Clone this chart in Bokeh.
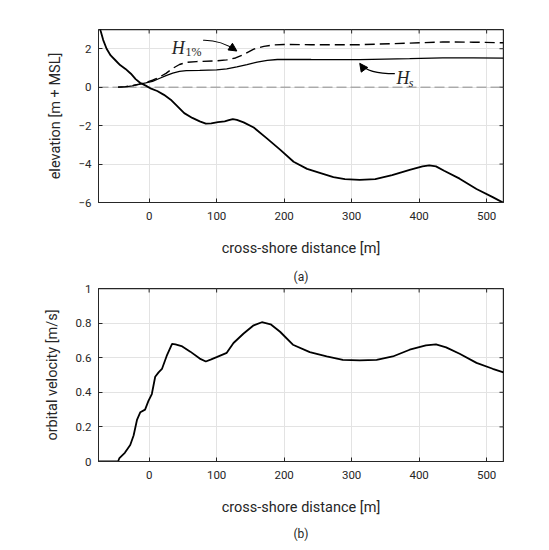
import math
from bokeh.plotting import figure
from bokeh.models import (Range1d, FixedTicker, Title, Arrow, NormalHead)
from bokeh.layouts import column
from bokeh.embed import file_html
from bokeh.resources import INLINE
from bokeh.core.properties import value

# ---------------- data ----------------
bed_x = [-75, -72, -68, -63, -57, -50, -43, -35, -27, -20, -13, -5, 3, 12, 22, 32, 42, 52,
         64, 75, 84, 92, 102, 112, 118, 124, 130, 140, 155, 174, 194, 214, 234, 254, 273,
         290, 312, 335, 360, 386, 405, 415, 425, 437, 460, 485, 509, 525]
bed_y = [3.5, 2.95, 2.45, 2.0, 1.65, 1.4, 1.15, 0.95, 0.7, 0.42, 0.22, 0.08, -0.08, -0.2,
         -0.4, -0.65, -1.0, -1.35, -1.6, -1.78, -1.9, -1.88, -1.82, -1.78, -1.72, -1.66,
         -1.7, -1.83, -2.1, -2.65, -3.25, -3.88, -4.25, -4.47, -4.68, -4.78, -4.82, -4.78,
         -4.57, -4.3, -4.12, -4.07, -4.12, -4.35, -4.76, -5.3, -5.72, -6.02]

hs_x = [-46, -35, -25, -15, -5, 5, 15, 25, 35, 45, 55, 75, 100, 115, 130, 145, 160, 175,
        190, 200, 240, 312, 386, 435, 480, 525]
hs_y = [0.0, 0.02, 0.07, 0.15, 0.22, 0.3, 0.45, 0.6, 0.73, 0.82, 0.86, 0.87, 0.9, 0.95,
        1.05, 1.17, 1.3, 1.39, 1.44, 1.45, 1.44, 1.43, 1.48, 1.52, 1.52, 1.51]

h1_x = [-46, -35, -25, -15, -5, 5, 15, 25, 35, 45, 55, 70, 100, 115, 128, 140, 155, 170,
        185, 200, 240, 312, 386, 435, 480, 525]
h1_y = [0.0, 0.03, 0.08, 0.16, 0.25, 0.36, 0.52, 0.72, 0.98, 1.18, 1.29, 1.33, 1.37, 1.42,
        1.52, 1.7, 1.98, 2.12, 2.2, 2.22, 2.21, 2.21, 2.29, 2.35, 2.34, 2.31]

vel_x = [-75, -46, -44, -36, -28, -23, -18, -13, -6, -1, 4, 9, 14, 19, 26, 34, 39, 48, 61,
         75, 84, 92, 100, 115, 125, 140, 154, 167, 180, 194, 213, 238, 263, 287, 312, 337,
         361, 386, 410, 425, 440, 460, 485, 509, 525]
vel_y = [0.0, 0.0, 0.02, 0.05, 0.095, 0.15, 0.24, 0.285, 0.30, 0.35, 0.39, 0.49, 0.515,
         0.535, 0.61, 0.68, 0.677, 0.667, 0.635, 0.595, 0.578, 0.59, 0.603, 0.628, 0.685,
         0.74, 0.785, 0.805, 0.793, 0.75, 0.675, 0.632, 0.607, 0.588, 0.584, 0.588, 0.607,
         0.646, 0.671, 0.677, 0.66, 0.623, 0.57, 0.536, 0.515]

x_ticks = [0, 100, 200, 300, 400, 500]
elev_ticks = [-6, -4, -2, 0, 2]
vel_ticks = [0, 0.2, 0.4, 0.6, 0.8, 1]
vel_tick_labels = ["0", "0.2", "0.4", "0.6", "0.8", "1"]

X_MIN, X_MAX = -75, 525
ELEV_MIN, ELEV_MAX = -6, 3
VEL_MIN, VEL_MAX = 0, 1

FONT = "Roboto"
AX = "#262626"
GRID = "#e3e3e3"


def style(p, xt, yt, ylabel, ystand, ybot, ytop):
    p.xaxis.ticker = FixedTicker(ticks=xt)
    p.yaxis.ticker = FixedTicker(ticks=yt)
    p.xgrid.ticker = FixedTicker(ticks=xt)
    p.ygrid.ticker = FixedTicker(ticks=yt)
    p.grid.grid_line_color = GRID
    p.grid.grid_line_width = 1
    p.outline_line_color = AX
    p.outline_line_width = 1
    for ax in p.xaxis + p.yaxis:
        ax.major_tick_in = 4
        ax.major_tick_out = 0
        ax.minor_tick_line_color = None
        ax.axis_line_color = AX
        ax.major_tick_line_color = AX
        ax.major_label_text_font = FONT
        ax.major_label_text_font_size = "11.5px"
        ax.major_label_text_color = AX
        ax.axis_label_text_font = FONT
        ax.axis_label_text_font_size = "14.5px"
        ax.axis_label_text_font_style = "normal"
        ax.axis_label_text_color = AX
    p.xaxis.major_label_standoff = 9
    p.yaxis.major_label_standoff = 7
    p.xaxis.axis_label = "cross-shore distance [m]"
    p.xaxis.axis_label_standoff = 17
    p.yaxis.axis_label = ylabel
    p.yaxis.axis_label_standoff = ystand
    # box: top and right edges with inward ticks
    p.line(x=[X_MIN, X_MAX], y=[ytop, ytop], line_color=AX, line_width=1.4)
    p.line(x=[X_MAX, X_MAX], y=[ybot, ytop], line_color=AX, line_width=1.4)
    p.scatter(x=xt, y=[ytop] * len(xt), marker="dash", angle=math.pi / 2, size=8,
              line_color=AX, line_width=1)
    p.scatter(x=[X_MAX] * len(yt), y=yt, marker="dash", size=8,
              line_color=AX, line_width=1)


# ---------------- panel (a) ----------------
p1 = figure(width=540, height=262, x_range=Range1d(X_MIN, X_MAX),
            y_range=Range1d(ELEV_MIN, ELEV_MAX),
            output_backend="svg", toolbar_location=None,
            min_border_left=98, min_border_right=37, min_border_top=29, min_border_bottom=60)
style(p1, x_ticks, elev_ticks, "elevation [m + MSL]", 11, ELEV_MIN, ELEV_MAX)

p1.line(x=[X_MIN, X_MAX], y=[0, 0], line_color="#8c8c8c", line_width=1, line_dash="10 4")
p1.line(x=bed_x, y=bed_y, line_color="black", line_width=1.8)
p1.line(x=hs_x, y=hs_y, line_color="black", line_width=1.3)
p1.line(x=h1_x, y=h1_y, line_color="black", line_width=1.4, line_dash="10 5")

# annotations
p1.text(x=[33.6], y=[2.02], text=["H"], text_font=value("Liberation Serif"),
        text_font_style="italic", text_font_size="18px", text_color="#262626",
        text_baseline="alphabetic", text_align="left")
p1.text(x=[54.0], y=[1.84], text=["1%"], text_font=value("Liberation Serif"),
        text_font_style="normal", text_font_size="12px", text_color="#262626",
        text_baseline="alphabetic", text_align="left")
p1.bezier(x0=[80], y0=[2.44], x1=[129], y1=[1.9], cx0=[102], cy0=[2.46],
          cx1=[116], cy1=[2.22], line_color="black", line_width=1.2)
p1.add_layout(Arrow(end=NormalHead(size=8, fill_color="black", line_color="black",
                                   line_width=1),
                    x_start=124, y_start=2.02, x_end=130, y_end=1.88,
                    line_color="black", line_width=1.2))

p1.text(x=[366.4], y=[0.50], text=["H"], text_font=value("Liberation Serif"),
        text_font_style="italic", text_font_size="18px", text_color="#262626",
        text_baseline="alphabetic", text_align="left")
p1.text(x=[384.5], y=[0.20], text=["s"], text_font=value("Liberation Serif"),
        text_font_style="italic", text_font_size="12px", text_color="#262626",
        text_baseline="alphabetic", text_align="left")
p1.bezier(x0=[364], y0=[0.70], x1=[313], y1=[1.2], cx0=[343], cy0=[0.70],
          cx1=[322], cy1=[0.80], line_color="black", line_width=1.2)
p1.add_layout(Arrow(end=NormalHead(size=8, fill_color="black", line_color="black",
                                   line_width=1),
                    x_start=317, y_start=1.0, x_end=312, y_end=1.24,
                    line_color="black", line_width=1.2))

# ---------------- panel (b) ----------------
p2 = figure(width=540, height=285, x_range=Range1d(X_MIN, X_MAX),
            y_range=Range1d(VEL_MIN, VEL_MAX),
            output_backend="svg", toolbar_location=None,
            min_border_left=98, min_border_right=37, min_border_top=26, min_border_bottom=86)
style(p2, x_ticks, vel_ticks, "orbital velocity [m/s]", 12, VEL_MIN, VEL_MAX)
p2.yaxis[0].major_label_overrides = {t: s for t, s in zip(vel_ticks, vel_tick_labels)}

p2.line(x=vel_x, y=vel_y, line_color="black", line_width=1.8)

p2.add_layout(Title(text="(a)", align="center", text_font=FONT, text_font_size="12px",
                    text_font_style="normal", text_color=AX, standoff=10), "above")
p2.add_layout(Title(text="(b)", align="center", text_font=FONT, text_font_size="12px",
                    text_font_style="normal", text_color=AX, standoff=13), "below")

layout = column(p1, p2)
open("out.html", "w").write(file_html(layout, INLINE))
